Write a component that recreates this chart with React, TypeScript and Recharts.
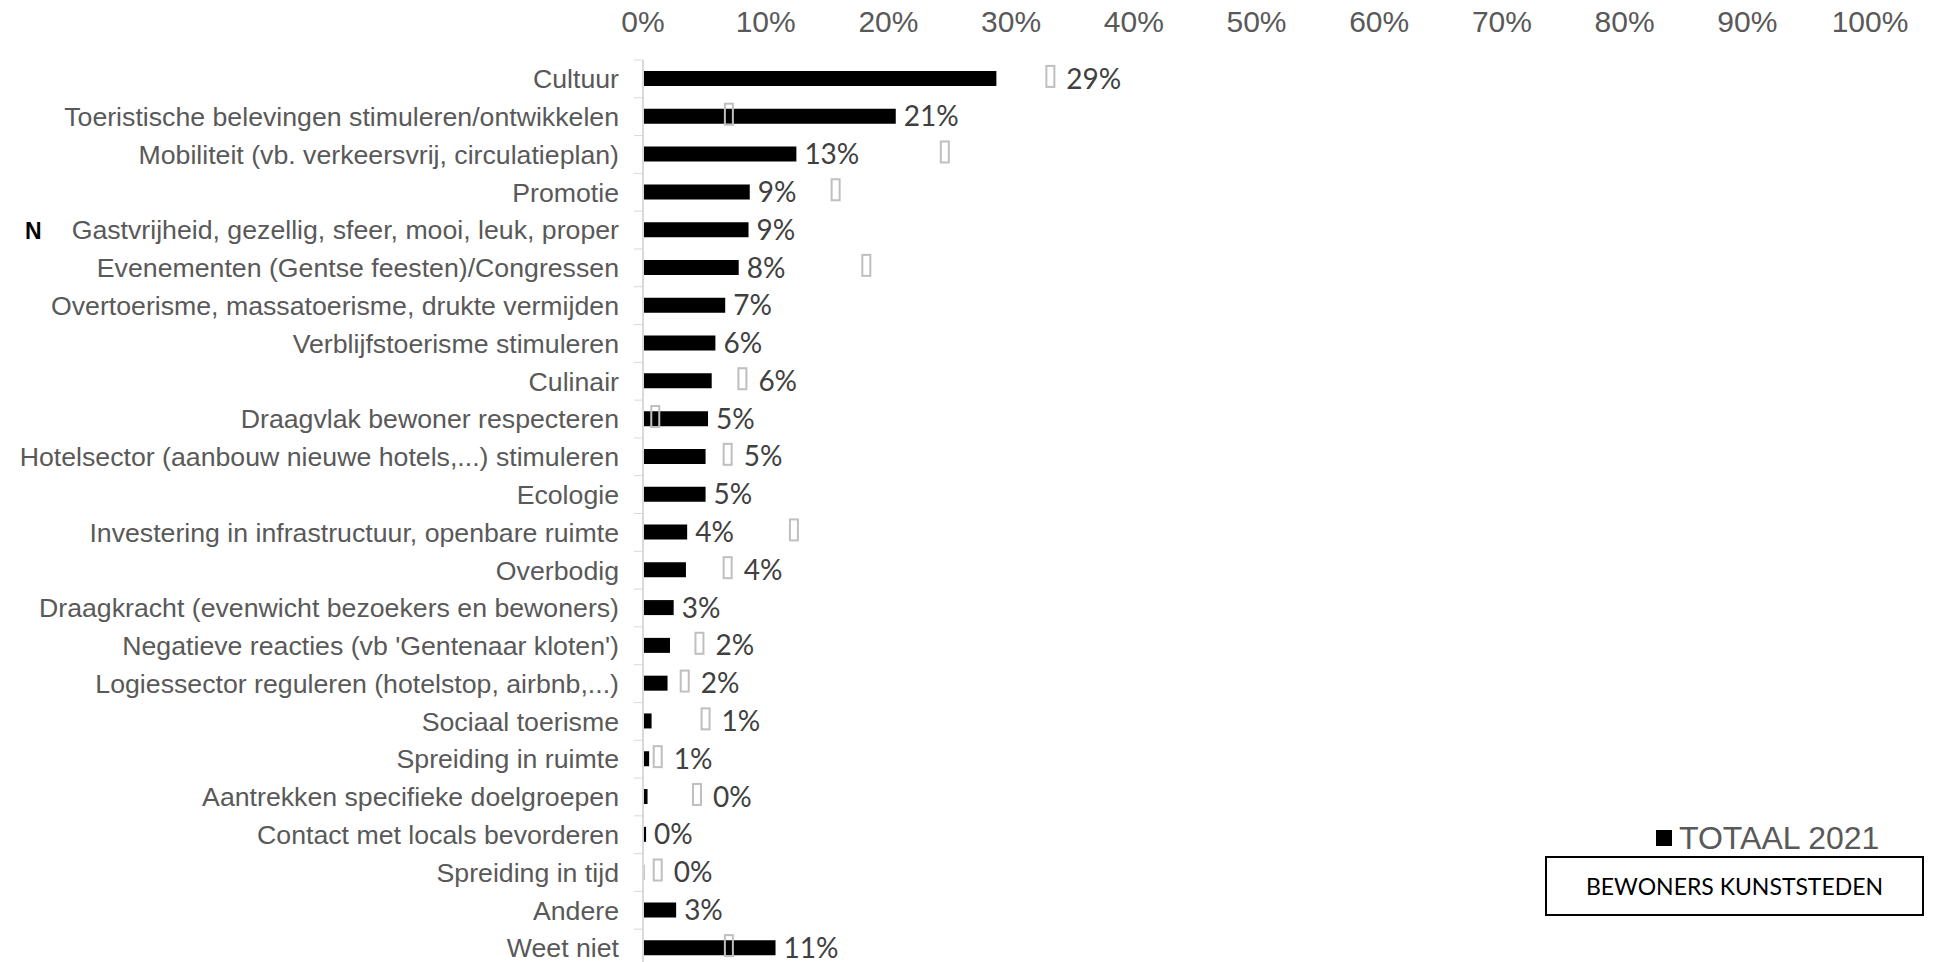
import { Bar, ComposedChart, LabelList, Legend, Line, XAxis, YAxis } from "recharts";

const categories = [
  "Cultuur",
  "Toeristische belevingen stimuleren/ontwikkelen",
  "Mobiliteit (vb. verkeersvrij, circulatieplan)",
  "Promotie",
  "Gastvrijheid, gezellig, sfeer, mooi, leuk, proper",
  "Evenementen (Gentse feesten)/Congressen",
  "Overtoerisme, massatoerisme, drukte vermijden",
  "Verblijfstoerisme stimuleren",
  "Culinair",
  "Draagvlak bewoner respecteren",
  "Hotelsector (aanbouw nieuwe hotels,...) stimuleren",
  "Ecologie",
  "Investering in infrastructuur, openbare ruimte",
  "Overbodig",
  "Draagkracht (evenwicht bezoekers en bewoners)",
  "Negatieve reacties (vb 'Gentenaar kloten')",
  "Logiessector reguleren (hotelstop, airbnb,...)",
  "Sociaal toerisme",
  "Spreiding in ruimte",
  "Aantrekken specifieke doelgroepen",
  "Contact met locals bevorderen",
  "Spreiding in tijd",
  "Andere",
  "Weet niet",
];

// TOTAAL 2021 (%)
const totaal2021 = [
  28.8, 20.6, 12.5, 8.7, 8.6, 7.8, 6.7, 5.9, 5.6, 5.3, 5.1, 5.1, 3.6, 3.5, 2.5, 2.2, 2.0, 0.7,
  0.5, 0.37, 0.25, 0.1, 2.7, 10.8,
];

// bewoners kunststeden (grey markers, %)
const kunststeden: (number | null)[] = [
  33.2, 7.0, 24.6, 15.7, null, 18.2, null, null, 8.1, 1.0, 6.9, null, 12.3, 6.9, null, 4.6, 3.4,
  5.1, 1.2, 4.4, null, 1.2, null, 7.0,
];

const xTicks = [0, 10, 20, 30, 40, 50, 60, 70, 80, 90, 100];

const data = categories.map((name, i) => ({
  name,
  totaal: totaal2021[i],
  kunststeden: kunststeden[i],
}));

const CHART_W = 1934;
const CHART_H = 1000;
const MARGIN = { top: 30, right: 64, bottom: 33, left: 0 };
const X_AXIS_H = 30;
const Y_AXIS_W = 643;
const BAND = (CHART_H - MARGIN.top - MARGIN.bottom - X_AXIS_H) / categories.length;
const PX_PER_PCT = (CHART_W - MARGIN.right - Y_AXIS_W) / 100;

const GREY_TEXT = "#595959";
const ARIAL = "'Liberation Sans', Arial, sans-serif";
const LABEL_FONT = "Lato, 'Open Sans', sans-serif";

function CategoryTick(props: any) {
  const { x, y, payload } = props;
  const axisX = x + 24;
  return (
    <g>
      <line x1={axisX - 9} x2={axisX} y1={y - BAND / 2} y2={y - BAND / 2} stroke="#D9D9D9" />
      <text
        x={x}
        y={y}
        dy="0.35em"
        textAnchor="end"
        fill={GREY_TEXT}
        fontSize={26.7}
        fontFamily={ARIAL}
      >
        {payload.value}
      </text>
    </g>
  );
}

function PercentTick(props: any) {
  const { x, y, payload } = props;
  return (
    <text x={x} y={y} textAnchor="middle" fill={GREY_TEXT} fontSize={30} fontFamily={ARIAL}>
      {`${payload.value}%`}
    </text>
  );
}

// value label sits right of the bar, or right of the grey marker when that marker is close by
function renderValueLabel(props: any) {
  const { x, y, width, height, value, index } = props;
  const barEnd = x + width;
  let lx = barEnd + 8;
  const m = kunststeden[index];
  if (m != null) {
    const mx = x + m * PX_PER_PCT;
    if (mx > barEnd - 4 && mx < barEnd + 60) lx = mx + 16;
  }
  return (
    <text
      x={lx}
      y={y + height / 2}
      dy="0.36em"
      fill="#404040"
      fontSize={28}
      fontFamily={LABEL_FONT}
    >
      {`${Math.round(value)}%`}
    </text>
  );
}

function renderMarker(props: any) {
  const { cx, cy, value, index } = props;
  if (value == null || cx == null || cy == null) return <g key={`m-${index}`} />;
  return (
    <rect
      key={`m-${index}`}
      x={cx - 4}
      y={cy - 13}
      width={8}
      height={21}
      fill="none"
      stroke="#BFBFBF"
      strokeWidth={2}
    />
  );
}

function LegendContent(props: any) {
  const item = (props.payload || [])[0];
  return (
    <div style={{ display: "flex", alignItems: "center", fontFamily: ARIAL }}>
      <span style={{ width: 16, height: 16, background: "#000", marginRight: 7 }} />
      <span style={{ fontSize: 32, color: GREY_TEXT, lineHeight: "34px" }}>{item?.value}</span>
    </div>
  );
}

export default function App() {
  return (
    <div
      style={{
        position: "absolute",
        left: 0,
        top: 0,
        width: CHART_W,
        height: 962,
        overflow: "hidden",
        background: "#fff",
      }}
    >
      <ComposedChart
        layout="vertical"
        width={CHART_W}
        height={CHART_H}
        data={data}
        margin={MARGIN}
      >
        <XAxis
          type="number"
          orientation="top"
          domain={[0, 100]}
          ticks={xTicks}
          interval={0}
          height={X_AXIS_H}
          axisLine={false}
          tickLine={false}
          tickSize={0}
          tickMargin={28}
          tick={<PercentTick />}
        />
        <YAxis
          type="category"
          dataKey="name"
          width={Y_AXIS_W}
          interval={0}
          axisLine={{ stroke: "#D9D9D9", strokeWidth: 2 }}
          tickLine={false}
          tickSize={0}
          tickMargin={24}
          tick={<CategoryTick />}
        />
        <Legend
          layout="horizontal"
          verticalAlign="middle"
          align="center"
          content={<LegendContent />}
          wrapperStyle={{ left: 1656, top: 821, width: 270 }}
        />
        <Bar dataKey="totaal" name="TOTAAL 2021" fill="#000" barSize={15} isAnimationActive={false}>
          <LabelList dataKey="totaal" content={renderValueLabel} />
        </Bar>
        <Line
          dataKey="kunststeden"
          stroke="none"
          legendType="none"
          dot={renderMarker}
          activeDot={false}
          isAnimationActive={false}
        />
      </ComposedChart>
      <div
        style={{
          position: "absolute",
          left: 25,
          top: 218,
          fontFamily: ARIAL,
          fontWeight: "bold",
          fontSize: 23,
          color: "#000",
        }}
      >
        N
      </div>
      <div
        style={{
          position: "absolute",
          left: 1545,
          top: 856,
          width: 379,
          height: 60,
          boxSizing: "border-box",
          border: "2px solid #000",
          display: "flex",
          alignItems: "center",
          justifyContent: "center",
          fontFamily: LABEL_FONT,
          fontSize: 23,
          color: "#000",
        }}
      >
        BEWONERS KUNSTSTEDEN
      </div>
    </div>
  );
}
